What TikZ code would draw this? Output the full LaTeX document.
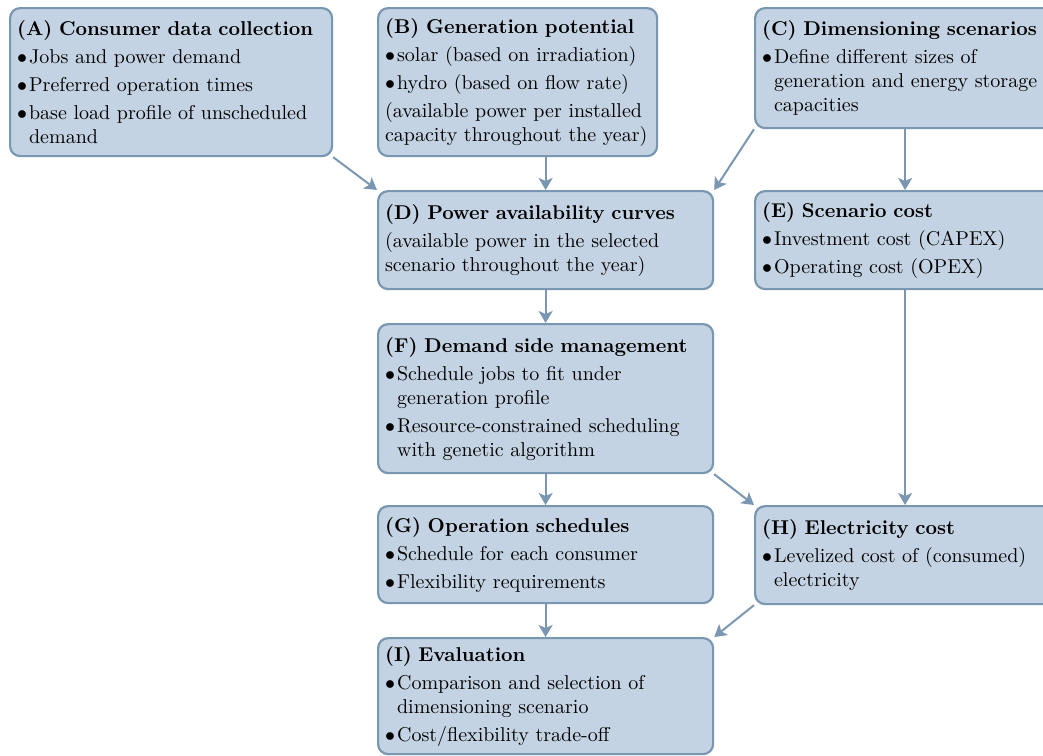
\documentclass[tikz,border=0pt]{standalone}
\usetikzlibrary{arrows.meta}

\definecolor{stagefill}{RGB}{196,211,227}
\definecolor{stageline}{RGB}{122,151,178}
\setlength{\parindent}{0pt}

% bullet line with hanging indent
\newcommand{\bul}[1]{\par\vspace{2pt}\hangindent=6pt\hangafter=1\makebox[6pt][l]{$\bullet$}#1\par}
\newcommand{\plainline}[1]{\par\vspace{2pt}#1\par}

\begin{document}
\begin{tikzpicture}[x=0.5pt, y=-0.5pt,
  stage/.style={draw=stageline, fill=stagefill, line width=1.1pt, rounded corners=5pt,
    inner xsep=3.5pt, inner ysep=4pt, align=left, anchor=north west},
  flow/.style={draw=stageline, line width=1pt, -{Stealth[length=6pt, width=7pt, inset=1.5pt]}}]

  \useasboundingbox (0,0) rectangle (1043,755);
  \clip (0,0) rectangle (1043,755);

  % -- Top row --
  \node[stage, text width=154pt, minimum height=74pt] (A) at (9,7)
    {\textbf{(A) Consumer data collection}
     \bul{Jobs and power demand}
     \bul{Preferred operation times}
     \bul{base load profile of unscheduled\newline demand}};
  \node[stage, text width=132.5pt, minimum height=74pt] (B) at (377,7)
    {\textbf{(B) Generation potential}
     \bul{solar (based on irradiation)}
     \bul{hydro (based on flow rate)}
     \plainline{(available power per installed\newline capacity throughout the year)}};
  \node[stage, text width=143pt, minimum height=60pt] (C) at (754,7)
    {\textbf{(C) Dimensioning scenarios}
     \bul{Define different sizes of\newline generation and energy storage\newline capacities}};

  % -- Second row --
  \node[stage, text width=160.5pt, minimum height=49pt] (D) at (377,190)
    {\textbf{(D) Power availability curves}
     \plainline{(available power in the selected\newline scenario throughout the year)}};
  \node[stage, text width=143pt, minimum height=49pt] (E) at (754,190)
    {\textbf{(E) Scenario cost}
     \bul{Investment cost (CAPEX)}
     \bul{Operating cost (OPEX)}};

  % -- Scheduling --
  \node[stage, text width=160.5pt, minimum height=74.5pt] (F) at (377,323)
    {\textbf{(F) Demand side management}
     \bul{Schedule jobs to fit under\newline generation profile}
     \bul{Resource-constrained scheduling\newline with genetic algorithm}};

  % -- Results row --
  \node[stage, text width=160.5pt, minimum height=48.5pt] (G) at (377,505)
    {\textbf{(G) Operation schedules}
     \bul{Schedule for each consumer}
     \bul{Flexibility requirements}};
  \node[stage, text width=143pt, minimum height=49pt] (H) at (754,505)
    {\textbf{(H) Electricity cost}
     \bul{Levelized cost of (consumed)\newline electricity}};

  % -- Evaluation --
  \node[stage, text width=160.5pt, minimum height=58pt] (I) at (377,637)
    {\textbf{(I) Evaluation}
     \bul{Comparison and selection of\newline dimensioning scenario}
     \bul{Cost/flexibility trade-off}};

  % -- Connectors --
  \draw[flow] (A.south east) -- (D.north west);
  \draw[flow] (B.south -| D.north) -- (D.north);
  \draw[flow] (C.south west) -- (D.north east);
  \draw[flow] (C.south) -- (E.north);
  \draw[flow] (D.south) -- (F.north);
  \draw[flow] (F.south) -- (G.north);
  \draw[flow] (F.south east) -- (H.north west);
  \draw[flow] (E.south) -- (H.north);
  \draw[flow] (G.south) -- (I.north);
  \draw[flow] (H.south west) -- (I.north east);

\end{tikzpicture}
\end{document}
